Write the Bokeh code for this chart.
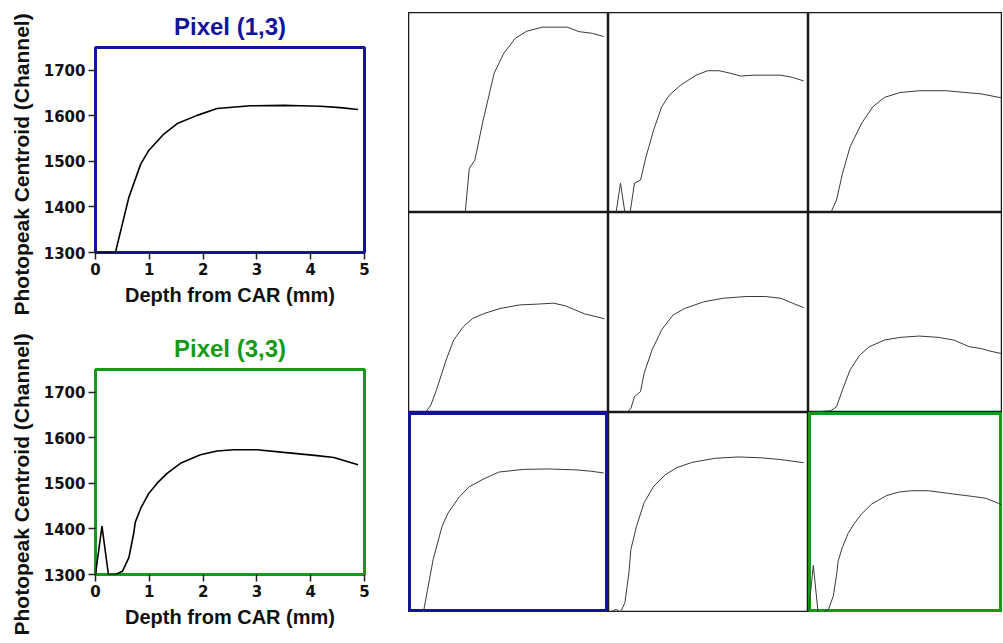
from bokeh.plotting import figure
from bokeh.layouts import row, column
from bokeh.models import FixedTicker, Range1d, Spacer, Title
from bokeh.embed import file_html
from bokeh.resources import INLINE

# ---------------- data ----------------
depth_ticks = [0, 1, 2, 3, 4, 5]
centroid_ticks = [1300, 1400, 1500, 1600, 1700]

# pixel (col,row) -> depth (mm), photopeak centroid (channel)
depth_p11 = [0, 1.40, 1.42, 1.52, 1.66, 1.85, 2.14, 2.38, 2.67, 2.96, 3.35, 3.97, 4.26, 4.60, 4.88]
cent_p11 = [1300, 1300, 1302, 1399, 1418, 1501, 1613, 1658, 1692, 1708, 1717, 1717, 1707, 1703, 1696]

depth_p21 = [0, 0.19, 0.30, 0.41, 0.54, 0.65, 0.80, 0.94, 1.13, 1.33, 1.52, 1.81, 2.19, 2.48, 2.77, 3.06, 3.30, 3.63, 4.31, 4.60, 4.88]
cent_p21 = [1300, 1300, 1366, 1300, 1300, 1366, 1373, 1426, 1486, 1538, 1564, 1587, 1609, 1619, 1619, 1613, 1607, 1609, 1609, 1604, 1596]

depth_p31 = [0, 0.56, 0.70, 0.85, 1.04, 1.33, 1.61, 1.90, 2.29, 2.77, 3.44, 3.92, 4.31, 4.88]
cent_p31 = [1300, 1300, 1328, 1388, 1448, 1501, 1538, 1559, 1570, 1574, 1574, 1570, 1567, 1557]

depth_p12 = [0, 0.40, 0.44, 0.56, 0.70, 0.94, 1.13, 1.37, 1.61, 1.90, 2.29, 2.77, 3.25, 3.63, 3.92, 4.40, 4.90]
cent_p12 = [1300, 1300, 1302, 1317, 1351, 1418, 1463, 1493, 1512, 1523, 1534, 1542, 1544, 1546, 1540, 1522, 1511]

depth_p22 = [0, 0.46, 0.56, 0.65, 0.80, 0.89, 1.09, 1.33, 1.61, 1.90, 2.38, 2.86, 3.44, 3.92, 4.31, 4.60, 4.88]
cent_p22 = [1300, 1301, 1309, 1336, 1347, 1388, 1441, 1486, 1519, 1534, 1549, 1557, 1561, 1561, 1557, 1546, 1536]

depth_p32 = [0, 0.56, 0.70, 0.85, 1.04, 1.28, 1.52, 1.90, 2.29, 2.77, 3.25, 3.63, 4.02, 4.31, 4.50, 4.90]
cent_p32 = [1300, 1304, 1313, 1351, 1396, 1429, 1448, 1463, 1469, 1472, 1469, 1463, 1448, 1444, 1439, 1431]

depth_p13 = [0, 0.37, 0.62, 0.84, 0.99, 1.27, 1.52, 1.89, 2.26, 2.88, 3.50, 3.81, 4.18, 4.55, 4.88]
cent_p13 = [1300, 1300, 1421, 1494, 1524, 1560, 1583, 1601, 1616, 1622, 1623, 1622, 1621, 1618, 1614]

depth_p23 = [0, 0.19, 0.30, 0.41, 0.51, 0.56, 0.70, 0.89, 1.13, 1.42, 1.71, 2.10, 2.67, 3.25, 3.83, 4.31, 4.88]
cent_p23 = [1300, 1307, 1301, 1322, 1389, 1442, 1494, 1547, 1584, 1610, 1626, 1638, 1647, 1650, 1648, 1644, 1637]

depth_p33 = [0, 0.12, 0.24, 0.37, 0.50, 0.62, 0.71, 0.74, 0.84, 0.99, 1.15, 1.33, 1.58, 1.95, 2.26, 2.57, 3.00, 3.50, 4.12, 4.43, 4.88]
cent_p33 = [1300, 1406, 1300, 1300, 1307, 1337, 1390, 1415, 1445, 1478, 1501, 1522, 1544, 1563, 1571, 1574, 1574, 1568, 1561, 1557, 1541]

title_13 = "Pixel (1,3)"
title_33 = "Pixel (3,3)"
x_label = "Depth from CAR (mm)"
y_label = "Photopeak Centroid (Channel)"

# ---------------- styling ----------------
FONT = "Liberation Sans"
TICK_FONT = "DejaVu Sans"
BLUE = "#14149b"
GREEN = "#179a17"
Y0, Y1 = 1300, 1750


def detail(title, color, xs, ys, top, bottom, ylab_offset):
    p = figure(width=408, height=top + 205 + bottom,
               x_range=Range1d(0, 5), y_range=Range1d(Y0, Y1),
               output_backend="svg", toolbar_location=None,
               min_border_left=95, min_border_right=44,
               min_border_top=top, min_border_bottom=bottom)
    p.title.text = title
    p.title.align = "center"
    p.title.text_color = color
    p.title.text_font = FONT
    p.title.text_font_size = "24px"
    p.title.text_font_style = "bold"
    p.title.standoff = 16
    p.grid.visible = False
    p.outline_line_color = color
    p.outline_line_width = 3
    p.outline_line_alpha = 1
    p.xaxis.ticker = FixedTicker(ticks=depth_ticks)
    p.yaxis.ticker = FixedTicker(ticks=centroid_ticks)
    for ax in (p.xaxis, p.yaxis):
        ax.axis_line_color = None
        ax.major_tick_out = 7
        ax.major_tick_in = 0
        ax.minor_tick_line_color = None
        ax.major_tick_line_color = "#222222"
        ax.major_tick_line_width = 1.5
        ax.major_label_text_font = TICK_FONT
        ax.major_label_text_font_size = "15px"
        ax.major_label_text_font_style = "bold"
        ax.major_label_text_color = "#111111"
        ax.axis_label_text_font = FONT
        ax.axis_label_text_font_style = "bold"
        ax.axis_label_text_color = "#111111"
    p.xaxis.major_label_standoff = 3
    p.yaxis.major_label_standoff = 3
    p.xaxis.axis_label = x_label
    p.xaxis.axis_label_text_font_size = "20px"
    p.xaxis.axis_label_standoff = 6
    ylab = Title(text=y_label, align="left", offset=ylab_offset,
                 vertical_align="middle", standoff=14,
                 text_font=FONT, text_font_size="21px",
                 text_font_style="bold", text_color="#111111")
    p.add_layout(ylab, "left")
    p.line(xs, ys, line_color="black", line_width=1.6)
    return p


def cell(xs, ys, color="#1a1a1a", lw=1.5, width=200, xmax=5):
    p = figure(width=width, height=200,
               x_range=Range1d(0, xmax), y_range=Range1d(Y0, Y1),
               output_backend="svg", toolbar_location=None,
               x_axis_type=None, y_axis_type=None, min_border=0)
    p.grid.visible = False
    p.outline_line_color = color
    p.outline_line_width = lw
    p.outline_line_alpha = 1
    p.line(xs, ys, line_color="#3a3a3a", line_width=1)
    return p


p_top = detail(title_13, BLUE, depth_p13, cent_p13, 47, 68, -63)
p_bot = detail(title_33, GREEN, depth_p33, cent_p33, 49, 66, -61)
left = column(p_top, p_bot)

W3 = 194
grid = column(
    Spacer(height=12),
    row(cell(depth_p11, cent_p11), cell(depth_p21, cent_p21),
        cell(depth_p31, cent_p31, width=W3, xmax=W3 / 40)),
    row(cell(depth_p12, cent_p12), cell(depth_p22, cent_p22),
        cell(depth_p32, cent_p32, width=W3, xmax=W3 / 40)),
    row(cell(depth_p13, cent_p13, color=BLUE, lw=5), cell(depth_p23, cent_p23),
        cell(depth_p33, cent_p33, color=GREEN, lw=5, width=W3, xmax=W3 / 40)),
)

layout = row(left, grid)
open("out.html", "w").write(file_html(layout, INLINE))
